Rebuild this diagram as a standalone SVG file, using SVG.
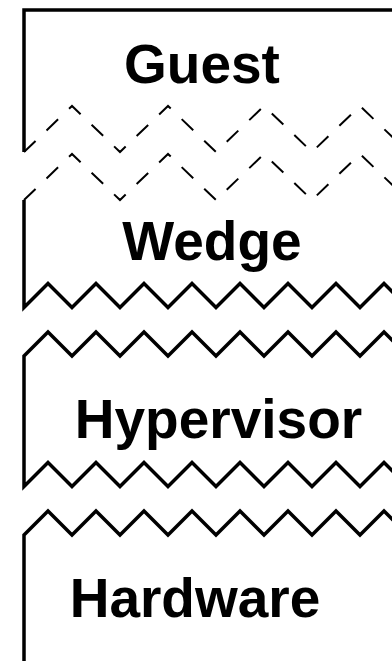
<svg xmlns="http://www.w3.org/2000/svg" width="392" height="661" viewBox="0 0 392 661">
  <style>
    .edge { fill: none; stroke: #000; stroke-width: 3.5; stroke-linejoin: miter; stroke-miterlimit: 10; }
    .torn { fill: none; stroke: #000; stroke-width: 2; stroke-dasharray: 16 15.2; }
    .label { font-family: "Liberation Sans", Arial, Helvetica, sans-serif; font-weight: bold; font-size: 55px; text-anchor: middle; fill: #000; }
  </style>
  <rect width="392" height="661" fill="#fff"/>

  <!-- Guest layer: solid top/left, dashed torn lower edge -->
  <g id="guest">
    <path class="edge" d="M400,10 H24 V152"/>
    <path class="torn" d="M24,152 l48,-46 l48,46 l48,-46 l48,46 l48,-46 l48,46 l48,-46 l48,46"/>
    <text class="label" x="202" y="83">Guest</text>
  </g>

  <!-- Wedge layer: dashed torn upper edge, zigzag lower edge -->
  <g id="wedge">
    <path class="torn" d="M24,200 l48,-46 l48,46 l48,-46 l48,46 l48,-46 l48,46 l48,-46 l48,46"/>
    <path class="edge" d="M24,200 V307.5 l24,-24 l24,24 l24,-24 l24,24 l24,-24 l24,24 l24,-24 l24,24 l24,-24 l24,24 l24,-24 l24,24 l24,-24 l24,24 l24,-24 l24,24"/>
    <text class="label" x="212" y="260">Wedge</text>
  </g>

  <!-- Hypervisor layer: zigzag upper and lower edges -->
  <g id="hypervisor">
    <path class="edge" d="M408,356 l-24,-24 l-24,24 l-24,-24 l-24,24 l-24,-24 l-24,24 l-24,-24 l-24,24 l-24,-24 l-24,24 l-24,-24 l-24,24 l-24,-24 l-24,24 l-24,-24 l-24,24 V486.5 l24,-24 l24,24 l24,-24 l24,24 l24,-24 l24,24 l24,-24 l24,24 l24,-24 l24,24 l24,-24 l24,24 l24,-24 l24,24 l24,-24 l24,24"/>
    <text class="label" x="218.5" y="438">Hypervisor</text>
  </g>

  <!-- Hardware layer: zigzag upper edge, open at the bottom -->
  <g id="hardware">
    <path class="edge" d="M408,535 l-24,-24 l-24,24 l-24,-24 l-24,24 l-24,-24 l-24,24 l-24,-24 l-24,24 l-24,-24 l-24,24 l-24,-24 l-24,24 l-24,-24 l-24,24 l-24,-24 l-24,24 V670"/>
    <text class="label" x="195" y="617">Hardware</text>
  </g>
</svg>
